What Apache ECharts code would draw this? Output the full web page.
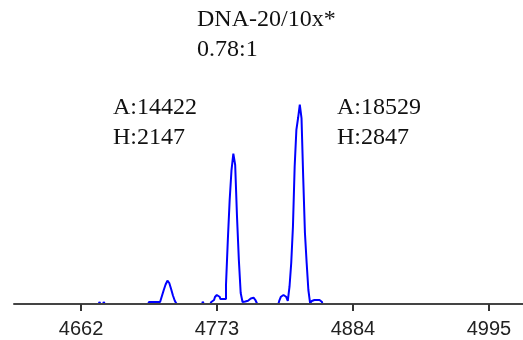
<!DOCTYPE html>
<html>
<head>
<meta charset="utf-8">
<script src="https://cdn.jsdelivr.net/npm/echarts@6/dist/echarts.min.js"></script>
<style>
  html, body { margin: 0; padding: 0; background: #fff; }
  #chart { width: 523px; height: 340px; }
</style>
</head>
<body>
<div id="chart"></div>
<script>
// Electropherogram trace: fragment size (bp) and signal (RFU)
const sizes = [
  4607.3, 4654.0, 4654.9, 4655.8, 4676.5, 4677.5, 4678.5, 4680.0, 4681.0, 4682.0,
  4716.8, 4718.3, 4719.8, 4721.3, 4722.8, 4724.3, 4725.8, 4727.3, 4728.8, 4730.3,
  4731.8, 4733.3, 4734.8, 4736.3, 4737.8, 4739.3, 4740.8,
  4760.9, 4761.8, 4762.7,
  4767.6, 4769.1, 4770.6, 4772.1, 4773.6, 4775.1, 4776.6, 4778.1, 4779.6, 4781.1,
  4782.6, 4784.1, 4785.6, 4787.1, 4788.6, 4790.1, 4791.6, 4793.1, 4794.6, 4796.1,
  4797.6, 4799.1, 4800.6, 4802.1, 4803.6, 4805.1, 4806.6,
  4823.1, 4824.5, 4825.9, 4827.3, 4828.7, 4830.1, 4831.5, 4832.9, 4834.3, 4835.7,
  4837.1, 4838.5, 4839.9, 4841.3, 4842.7, 4844.1, 4845.5, 4846.9, 4848.3, 4849.7,
  4851.1, 4852.5, 4853.9, 4855.3, 4856.7, 4858.1, 4859.5,
  4907.0, 4907.9, 4908.8, 4971.3, 4972.2, 4973.1, 4984.1, 4985.0, 4985.9, 5022.8
];
const rfu = [
  0, 0, -20, 0, 0, 29, 0, 0, 29, 0,
  0, 29, 29, 29, 29, 29, 29, 43, 114, 200,
  279, 333, 300, 214, 121, 47, 0,
  0, 33, 0,
  0, 29, 57, 100, 129, 104, 71, 71, 71, 271,
  914, 1486, 1914, 2147, 1986, 1243, 629, 157, 29, 36,
  47, 71, 79, 90, 86, 57, 0,
  0, 43, 104, 129, 104, 81, 43, 247, 586, 1104,
  1961, 2486, 2657, 2847, 2657, 1800, 1014, 586, 200, 14,
  43, 57, 57, 57, 57, 29, 0,
  0, -20, 0, 0, -20, 0, 0, -20, 0, 0
];

// Axis ticks (bp)
const tickValues = [4662, 4773, 4884, 4995];

// Sample header and peak annotations (area, height)
const sampleName = 'DNA-20/10x*';
const peakRatio = '0.78:1';
const peakAreas = [14422, 18529];
const peakHeights = [2147, 2847];

const serif = '"Liberation Serif", "Times New Roman", serif';

const chart = echarts.init(document.getElementById('chart'), null, { renderer: 'canvas' });

chart.setOption({
  animation: false,
  backgroundColor: '#ffffff',
  grid: { left: 14, right: 0, top: 24, bottom: 36, containLabel: false },
  xAxis: {
    type: 'value',
    min: 4607.3,
    max: 5022.8,
    z: 10,
    axisLine: { show: true, lineStyle: { color: '#444', width: 2 } },
    axisTick: { show: true, length: 7, customValues: tickValues, lineStyle: { color: '#333', width: 2 } },
    axisLabel: {
      show: true,
      customValues: tickValues,
      formatter: v => String(v),
      margin: 15,
      color: '#222',
      fontFamily: '"Liberation Sans", Arial, sans-serif',
      fontSize: 20
    },
    splitLine: { show: false }
  },
  yAxis: {
    type: 'value',
    min: 0,
    max: 4000,
    show: false,
    splitLine: { show: false }
  },
  series: [{
    type: 'line',
    step: 'middle',
    clip: false,
    showSymbol: false,
    data: sizes.map((s, i) => [s, rfu[i]]),
    lineStyle: { color: '#0000ff', width: 2 },
    z: 2
  }],
  graphic: [
    {
      type: 'text', left: 197, top: 5,
      style: { text: sampleName + '\n' + peakRatio, font: '24px ' + serif, fill: '#111', lineHeight: 30 }
    },
    {
      type: 'text', left: 113, top: 93,
      style: { text: 'A:' + peakAreas[0] + '\nH:' + peakHeights[0], font: '24px ' + serif, fill: '#111', lineHeight: 30 }
    },
    {
      type: 'text', left: 337, top: 93,
      style: { text: 'A:' + peakAreas[1] + '\nH:' + peakHeights[1], font: '24px ' + serif, fill: '#111', lineHeight: 30 }
    }
  ]
});
</script>
</body>
</html>
